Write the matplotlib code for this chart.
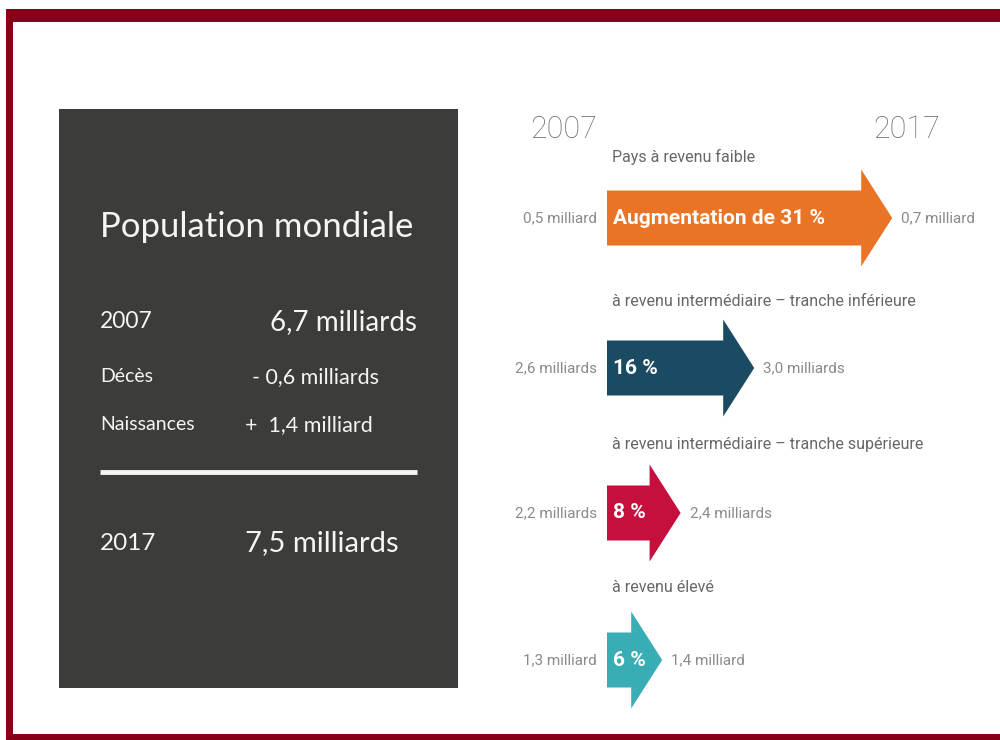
import matplotlib
matplotlib.use("Agg")
import matplotlib.pyplot as plt
from matplotlib.patches import Rectangle, FancyArrow

# ---------------- data ----------------
groups = ["Pays à revenu faible",
          "à revenu intermédiaire – tranche inférieure",
          "à revenu intermédiaire – tranche supérieure",
          "à revenu élevé"]
pop_2007 = ["0,5 milliard", "2,6 milliards", "2,2 milliards", "1,3 milliard"]
pop_2017 = ["0,7 milliard", "3,0 milliards", "2,4 milliards", "1,4 milliard"]
growth_pct = [31, 16, 8, 6]
growth_labels = ["Augmentation de 31 %", "16 %", "8 %", "6 %"]
arrow_colors = ["#ea7425", "#1b4a63", "#c5103d", "#38adb5"]

years = ["2007", "2017"]
world_labels = ["2007", "Décès", "Naissances", "2017"]
world_values = ["6,7 milliards", "- 0,6 milliards", "+  1,4 milliard", "7,5 milliards"]
panel_title = "Population mondiale"

# ---------------- figure ----------------
W, H = 1000, 740
fig = plt.figure(figsize=(W / 100, H / 100), dpi=100)
fig.patch.set_facecolor("white")
ax = fig.add_axes([0, 0, 1, 1])
ax.set_xlim(0, W)
ax.set_ylim(H, 0)
ax.axis("off")

FONT = "Roboto"
HAND = "Lato"
GREY = "#8a8a8a"

# frame (top, left, bottom bands)
border = "#870019"
ax.add_patch(Rectangle((6, 9), W - 6, 13, color=border, lw=0))
ax.add_patch(Rectangle((6, 9), 7, H - 9, color=border, lw=0))
ax.add_patch(Rectangle((6, 734), W - 6, 6, color=border, lw=0))

# ---------------- left chalkboard panel ----------------
ax.add_patch(Rectangle((59, 109), 399, 579, color="#3c3c3b", lw=0))
chalk = "#f5f5f2"
ax.text(100, 227, panel_title, color=chalk, fontsize=25, family=HAND,
        ha="left", va="center")

row_y = [322, 377, 425, 543]
label_sizes = [16.5, 14, 14, 17.5]
value_sizes = [20, 15.5, 15.5, 21]
val_x = [270, 252, 245, 245]
for lab, val, y, fl, fv, vx in zip(world_labels, world_values, row_y,
                                   label_sizes, value_sizes, val_x):
    ax.text(100, y, lab, color=chalk, fontsize=fl, family=HAND,
            ha="left", va="center")
    ax.text(vx, y, val, color=chalk, fontsize=fv, family=HAND,
            ha="left", va="center")
ax.plot([100, 417], [472, 472], color=chalk, lw=3.5, solid_capstyle="butt")

# ---------------- right: arrows ----------------
x0 = 607
px_per_pct = 9.2
arrow_y = [218, 368, 513, 660]
label_y = [157, 302, 445, 588]

ax.text(597, 129, years[0], color="#6f6f6f", fontsize=22, family=FONT,
        fontweight="light", ha="right", va="center")
ax.text(940, 129, years[1], color="#6f6f6f", fontsize=22, family=FONT,
        fontweight="light", ha="right", va="center")

for g, a, b, pct, gl, col, ay, ly in zip(groups, pop_2007, pop_2017, growth_pct,
                                         growth_labels, arrow_colors, arrow_y, label_y):
    length = pct * px_per_pct
    ax.add_patch(FancyArrow(x0, ay, length, 0, width=55, head_width=97,
                            head_length=31, length_includes_head=True,
                            color=col, lw=0))
    ax.text(612, ly, g, color="#666666", fontsize=11.5, family=FONT,
            ha="left", va="center")
    ax.text(597, ay, a, color=GREY, fontsize=11, family=FONT,
            ha="right", va="center")
    ax.text(x0 + length + 9, ay, b, color=GREY, fontsize=11, family=FONT,
            ha="left", va="center")
    ax.text(613, ay, gl, color="white", fontsize=15, family=FONT,
            fontweight="bold", ha="left", va="center")

fig.savefig("out.png", dpi=100, facecolor="white")
